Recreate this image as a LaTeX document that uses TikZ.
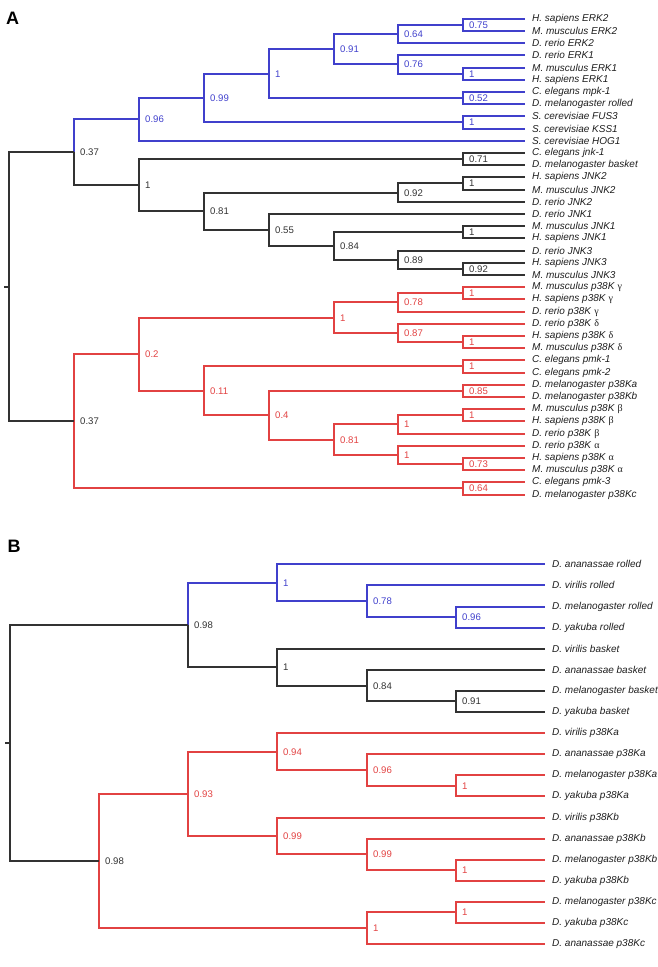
\documentclass[tikz,border=0pt]{standalone}
\usepackage{fontspec}
\setmainfont{Liberation Sans}
\newfontfamily\grk{Liberation Serif}
\definecolor{cb}{RGB}{64,64,204}
\definecolor{cr}{RGB}{226,66,66}
\definecolor{ck}{RGB}{50,50,50}
\definecolor{ct}{RGB}{30,30,30}
\tikzset{
  bl/.style={draw=cb,line width=1.8pt},
  rd/.style={draw=cr,line width=1.8pt},
  bk/.style={draw=ck,line width=1.8pt},
  leaf/.style={anchor=west,inner sep=0pt,xshift=7pt,text=ct,font=\fontsize{10}{12}\selectfont},
  nl/.style={anchor=west,inner sep=0pt,xshift=6pt,font=\fontsize{9.6}{11}\selectfont},
  panel/.style={inner sep=0pt,font=\bfseries\fontsize{18}{18}\selectfont}
}
\newcommand\mkleaf[4]{\coordinate (#1) at ({round(#2)},{round(#3)}); \node[leaf] (#1t) at (#1) {#4};}
\newcommand\mkint[5]{\coordinate (#1) at ({round(#2)},{round(#3)}); \node[nl,text=#4] (#1t) at (#1) {#5};}
\newcommand\mkedge[3]{\draw[#1] (#2) |- (#3);}
\begin{document}
\begin{tikzpicture}[x=1pt,y=-1pt]
\useasboundingbox (0,0) rectangle (658,967);
\node[panel] (A) at (12.5,18.5) {A};
\node[panel] (B) at (14,546.3) {B};
\begin{scope}[shift={(0,1)}]
% leaves A
\mkleaf{a0}{525}{17.7}{\textit{H. sapiens ERK2}}
\mkleaf{a1}{525}{29.9}{\textit{M. musculus ERK2}}
\mkleaf{a2}{525}{42.1}{\textit{D. rerio ERK2}}
\mkleaf{a3}{525}{54.3}{\textit{D. rerio ERK1}}
\mkleaf{a4}{525}{66.5}{\textit{M. musculus ERK1}}
\mkleaf{a5}{525}{78.7}{\textit{H. sapiens ERK1}}
\mkleaf{a6}{525}{90.9}{\textit{C. elegans mpk-1}}
\mkleaf{a7}{525}{103.1}{\textit{D. melanogaster rolled}}
\mkleaf{a8}{525}{115.3}{\textit{S. cerevisiae FUS3}}
\mkleaf{a9}{525}{127.5}{\textit{S. cerevisiae KSS1}}
\mkleaf{a10}{525}{139.7}{\textit{S. cerevisiae HOG1}}
\mkleaf{a11}{525}{151.9}{\textit{C. elegans jnk-1}}
\mkleaf{a12}{525}{164.1}{\textit{D. melanogaster basket}}
\mkleaf{a13}{525}{176.3}{\textit{H. sapiens JNK2}}
\mkleaf{a14}{525}{188.5}{\textit{M. musculus JNK2}}
\mkleaf{a15}{525}{200.7}{\textit{D. rerio JNK2}}
\mkleaf{a16}{525}{212.9}{\textit{D. rerio JNK1}}
\mkleaf{a17}{525}{225.1}{\textit{M. musculus JNK1}}
\mkleaf{a18}{525}{237.3}{\textit{H. sapiens JNK1}}
\mkleaf{a19}{525}{249.5}{\textit{D. rerio JNK3}}
\mkleaf{a20}{525}{261.7}{\textit{H. sapiens JNK3}}
\mkleaf{a21}{525}{273.9}{\textit{M. musculus JNK3}}
\mkleaf{a22}{525}{286.1}{\textit{M. musculus p38K} {\grk γ}}
\mkleaf{a23}{525}{298.3}{\textit{H. sapiens p38K} {\grk γ}}
\mkleaf{a24}{525}{310.5}{\textit{D. rerio p38K} {\grk γ}}
\mkleaf{a25}{525}{322.7}{\textit{D. rerio p38K} {\grk δ}}
\mkleaf{a26}{525}{334.9}{\textit{H. sapiens p38K} {\grk δ}}
\mkleaf{a27}{525}{347.1}{\textit{M. musculus p38K} {\grk δ}}
\mkleaf{a28}{525}{359.3}{\textit{C. elegans pmk-1}}
\mkleaf{a29}{525}{371.5}{\textit{C. elegans pmk-2}}
\mkleaf{a30}{525}{383.7}{\textit{D. melanogaster p38Ka}}
\mkleaf{a31}{525}{395.9}{\textit{D. melanogaster p38Kb}}
\mkleaf{a32}{525}{408.1}{\textit{M. musculus p38K} {\grk β}}
\mkleaf{a33}{525}{420.3}{\textit{H. sapiens p38K} {\grk β}}
\mkleaf{a34}{525}{432.5}{\textit{D. rerio p38K} {\grk β}}
\mkleaf{a35}{525}{444.7}{\textit{D. rerio p38K} {\grk α}}
\mkleaf{a36}{525}{456.9}{\textit{H. sapiens p38K} {\grk α}}
\mkleaf{a37}{525}{469.1}{\textit{M. musculus p38K} {\grk α}}
\mkleaf{a38}{525}{481.3}{\textit{C. elegans pmk-3}}
\mkleaf{a39}{525}{493.5}{\textit{D. melanogaster p38Kc}}
% internal A
\mkint{aE2p}{463}{23.8}{cb}{0.75}
\mkint{aE2}{398}{32.95}{cb}{0.64}
\mkint{aE1p}{463}{72.6}{cb}{1}
\mkint{aE1}{398}{63.45}{cb}{0.76}
\mkint{aERK}{334}{48.2}{cb}{0.91}
\mkint{aMR}{463}{97.0}{cb}{0.52}
\mkint{aM1}{269}{72.6}{cb}{1}
\mkint{aFK}{463}{121.4}{cb}{1}
\mkint{aM2}{204}{97.0}{cb}{0.99}
\mkint{aBlue}{139}{118.35}{cb}{0.96}
\mkint{aJB}{463}{158.0}{ck}{0.71}
\mkint{aJ2p}{463}{182.4}{ck}{1}
\mkint{aJ2}{398}{191.55}{ck}{0.92}
\mkint{aJ1p}{463}{231.2}{ck}{1}
\mkint{aJ3p}{463}{267.8}{ck}{0.92}
\mkint{aJ3}{398}{258.65}{ck}{0.89}
\mkint{aJ13}{334}{244.9}{ck}{0.84}
\mkint{aJ55}{269}{228.9}{ck}{0.55}
\mkint{aJ81}{204}{210.2}{ck}{0.81}
\mkint{aJNK}{139}{184.1}{ck}{1}
\mkint{aTop}{74}{151.2}{ck}{0.37}
\mkint{aGp}{463}{292.2}{cr}{1}
\mkint{aG}{398}{301.35}{cr}{0.78}
\mkint{aDp}{463}{341.0}{cr}{1}
\mkint{aD}{398}{331.85}{cr}{0.87}
\mkint{aGD}{334}{316.6}{cr}{1}
\mkint{aPmk}{463}{365.4}{cr}{1}
\mkint{aKab}{463}{389.8}{cr}{0.85}
\mkint{aBp}{463}{414.2}{cr}{1}
\mkint{aB}{398}{423.35}{cr}{1}
\mkint{aAp}{463}{463.0}{cr}{0.73}
\mkint{aA}{398}{453.85}{cr}{1}
\mkint{aBA}{334}{438.6}{cr}{0.81}
\mkint{aP04}{269}{414.2}{cr}{0.4}
\mkint{aP011}{204}{389.8}{cr}{0.11}
\mkint{aP02}{139}{353.2}{cr}{0.2}
\mkint{aPc}{463}{487.4}{cr}{0.64}
\mkint{aRed}{74}{420.3}{ck}{0.37}
\coordinate (aRoot) at (9,286);
\coordinate (aStub) at (4,286);
% edges A
\mkedge{bl}{aE2p}{a0}\mkedge{bl}{aE2p}{a1}
\mkedge{bl}{aE2}{aE2p}\mkedge{bl}{aE2}{a2}
\mkedge{bl}{aE1p}{a4}\mkedge{bl}{aE1p}{a5}
\mkedge{bl}{aE1}{a3}\mkedge{bl}{aE1}{aE1p}
\mkedge{bl}{aERK}{aE2}\mkedge{bl}{aERK}{aE1}
\mkedge{bl}{aMR}{a6}\mkedge{bl}{aMR}{a7}
\mkedge{bl}{aM1}{aERK}\mkedge{bl}{aM1}{aMR}
\mkedge{bl}{aFK}{a8}\mkedge{bl}{aFK}{a9}
\mkedge{bl}{aM2}{aM1}\mkedge{bl}{aM2}{aFK}
\mkedge{bl}{aBlue}{aM2}\mkedge{bl}{aBlue}{a10}
\mkedge{bl}{aTop}{aBlue}\mkedge{bk}{aTop}{aJNK}
\mkedge{bk}{aJB}{a11}\mkedge{bk}{aJB}{a12}
\mkedge{bk}{aJ2p}{a13}\mkedge{bk}{aJ2p}{a14}
\mkedge{bk}{aJ2}{aJ2p}\mkedge{bk}{aJ2}{a15}
\mkedge{bk}{aJ1p}{a17}\mkedge{bk}{aJ1p}{a18}
\mkedge{bk}{aJ3p}{a20}\mkedge{bk}{aJ3p}{a21}
\mkedge{bk}{aJ3}{a19}\mkedge{bk}{aJ3}{aJ3p}
\mkedge{bk}{aJ13}{aJ1p}\mkedge{bk}{aJ13}{aJ3}
\mkedge{bk}{aJ55}{a16}\mkedge{bk}{aJ55}{aJ13}
\mkedge{bk}{aJ81}{aJ2}\mkedge{bk}{aJ81}{aJ55}
\mkedge{bk}{aJNK}{aJB}\mkedge{bk}{aJNK}{aJ81}
\mkedge{rd}{aGp}{a22}\mkedge{rd}{aGp}{a23}
\mkedge{rd}{aG}{aGp}\mkedge{rd}{aG}{a24}
\mkedge{rd}{aDp}{a26}\mkedge{rd}{aDp}{a27}
\mkedge{rd}{aD}{a25}\mkedge{rd}{aD}{aDp}
\mkedge{rd}{aGD}{aG}\mkedge{rd}{aGD}{aD}
\mkedge{rd}{aPmk}{a28}\mkedge{rd}{aPmk}{a29}
\mkedge{rd}{aKab}{a30}\mkedge{rd}{aKab}{a31}
\mkedge{rd}{aBp}{a32}\mkedge{rd}{aBp}{a33}
\mkedge{rd}{aB}{aBp}\mkedge{rd}{aB}{a34}
\mkedge{rd}{aAp}{a36}\mkedge{rd}{aAp}{a37}
\mkedge{rd}{aA}{a35}\mkedge{rd}{aA}{aAp}
\mkedge{rd}{aBA}{aB}\mkedge{rd}{aBA}{aA}
\mkedge{rd}{aP04}{aKab}\mkedge{rd}{aP04}{aBA}
\mkedge{rd}{aP011}{aPmk}\mkedge{rd}{aP011}{aP04}
\mkedge{rd}{aP02}{aGD}\mkedge{rd}{aP02}{aP011}
\mkedge{rd}{aPc}{a38}\mkedge{rd}{aPc}{a39}
\mkedge{rd}{aRed}{aP02}\mkedge{rd}{aRed}{aPc}
\mkedge{bk}{aRoot}{aTop}\mkedge{bk}{aRoot}{aRed}
\draw[bk] (aStub) -- (aRoot);
\end{scope}
% leaves B
\mkleaf{b0}{545}{564.3}{\textit{D. ananassae rolled}}
\mkleaf{b1}{545}{585.4}{\textit{D. virilis rolled}}
\mkleaf{b2}{545}{606.5}{\textit{D. melanogaster rolled}}
\mkleaf{b3}{545}{627.6}{\textit{D. yakuba rolled}}
\mkleaf{b4}{545}{648.7}{\textit{D. virilis basket}}
\mkleaf{b5}{545}{669.8}{\textit{D. ananassae basket}}
\mkleaf{b6}{545}{690.9}{\textit{D. melanogaster basket}}
\mkleaf{b7}{545}{712.0}{\textit{D. yakuba basket}}
\mkleaf{b8}{545}{733.1}{\textit{D. virilis p38Ka}}
\mkleaf{b9}{545}{754.2}{\textit{D. ananassae p38Ka}}
\mkleaf{b10}{545}{775.3}{\textit{D. melanogaster p38Ka}}
\mkleaf{b11}{545}{796.4}{\textit{D. yakuba p38Ka}}
\mkleaf{b12}{545}{817.5}{\textit{D. virilis p38Kb}}
\mkleaf{b13}{545}{838.6}{\textit{D. ananassae p38Kb}}
\mkleaf{b14}{545}{859.7}{\textit{D. melanogaster p38Kb}}
\mkleaf{b15}{545}{880.8}{\textit{D. yakuba p38Kb}}
\mkleaf{b16}{545}{901.9}{\textit{D. melanogaster p38Kc}}
\mkleaf{b17}{545}{923.0}{\textit{D. yakuba p38Kc}}
\mkleaf{b18}{545}{944.1}{\textit{D. ananassae p38Kc}}
% internal B
\mkint{bR96}{456}{617.05}{cb}{0.96}
\mkint{bR78}{366.5}{601.2}{cb}{0.78}
\mkint{bR1}{277}{582.75}{cb}{1}
\mkint{bB91}{456}{701.45}{ck}{0.91}
\mkint{bB84}{366.5}{685.6}{ck}{0.84}
\mkint{bB1}{277}{667.15}{ck}{1}
\mkint{bTop}{188}{624.95}{ck}{0.98}
\mkint{bKa1}{456}{785.85}{cr}{1}
\mkint{bKa96}{366.5}{770.0}{cr}{0.96}
\mkint{bKa94}{277}{751.55}{cr}{0.94}
\mkint{bKb1}{456}{870.25}{cr}{1}
\mkint{bKb99b}{366.5}{854.4}{cr}{0.99}
\mkint{bKb99}{277}{835.95}{cr}{0.99}
\mkint{bP93}{188}{793.75}{cr}{0.93}
\mkint{bKc1p}{456}{912.45}{cr}{1}
\mkint{bKc1}{366.5}{928.3}{cr}{1}
\mkint{bRed}{99}{861.0}{ck}{0.98}
\coordinate (bRoot) at (10,743);
\coordinate (bStub) at (5,743);
% edges B
\mkedge{bl}{bR96}{b2}\mkedge{bl}{bR96}{b3}
\mkedge{bl}{bR78}{b1}\mkedge{bl}{bR78}{bR96}
\mkedge{bl}{bR1}{b0}\mkedge{bl}{bR1}{bR78}
\mkedge{bl}{bTop}{bR1}\mkedge{bk}{bTop}{bB1}
\mkedge{bk}{bB91}{b6}\mkedge{bk}{bB91}{b7}
\mkedge{bk}{bB84}{b5}\mkedge{bk}{bB84}{bB91}
\mkedge{bk}{bB1}{b4}\mkedge{bk}{bB1}{bB84}
\mkedge{rd}{bKa1}{b10}\mkedge{rd}{bKa1}{b11}
\mkedge{rd}{bKa96}{b9}\mkedge{rd}{bKa96}{bKa1}
\mkedge{rd}{bKa94}{b8}\mkedge{rd}{bKa94}{bKa96}
\mkedge{rd}{bKb1}{b14}\mkedge{rd}{bKb1}{b15}
\mkedge{rd}{bKb99b}{b13}\mkedge{rd}{bKb99b}{bKb1}
\mkedge{rd}{bKb99}{b12}\mkedge{rd}{bKb99}{bKb99b}
\mkedge{rd}{bP93}{bKa94}\mkedge{rd}{bP93}{bKb99}
\mkedge{rd}{bKc1p}{b16}\mkedge{rd}{bKc1p}{b17}
\mkedge{rd}{bKc1}{bKc1p}\mkedge{rd}{bKc1}{b18}
\mkedge{rd}{bRed}{bP93}\mkedge{rd}{bRed}{bKc1}
\mkedge{bk}{bRoot}{bTop}\mkedge{bk}{bRoot}{bRed}
\draw[bk] (bStub) -- (bRoot);
\end{tikzpicture}
\end{document}
